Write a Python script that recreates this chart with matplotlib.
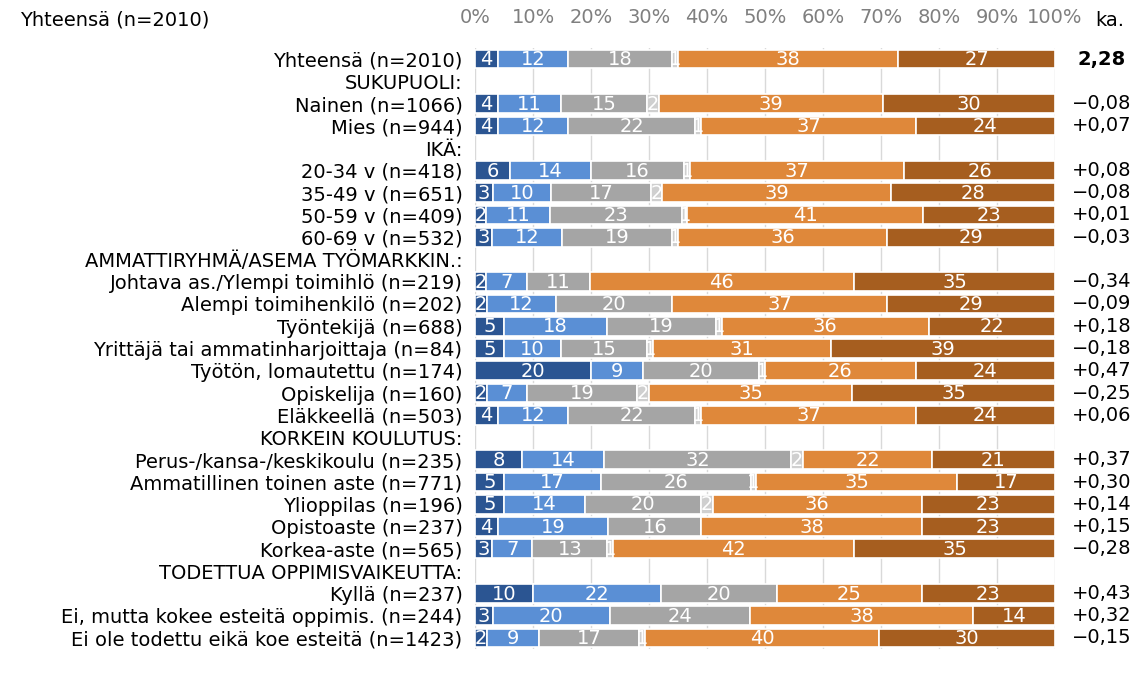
import matplotlib
matplotlib.use('Agg')
import matplotlib.pyplot as plt
import numpy as np

# rows top to bottom, header rows have no bars
rows = ['Yhteensä (n=2010)', 'SUKUPUOLI:', 'Nainen (n=1066)', 'Mies (n=944)', 'IKÄ:',
        '20-34 v (n=418)', '35-49 v (n=651)', '50-59 v (n=409)', '60-69 v (n=532)',
        'AMMATTIRYHMÄ/ASEMA TYÖMARKKIN.:',
        'Johtava as./Ylempi toimihlö (n=219)', 'Alempi toimihenkilö (n=202)',
        'Työntekijä (n=688)', 'Yrittäjä tai ammatinharjoittaja (n=84)',
        'Työtön, lomautettu (n=174)', 'Opiskelija (n=160)', 'Eläkkeellä (n=503)',
        'KORKEIN KOULUTUS:',
        'Perus-/kansa-/keskikoulu (n=235)', 'Ammatillinen toinen aste (n=771)',
        'Ylioppilas (n=196)', 'Opistoaste (n=237)', 'Korkea-aste (n=565)',
        'TODETTUA OPPIMISVAIKEUTTA:',
        'Kyllä (n=237)', 'Ei, mutta kokee esteitä oppimis. (n=244)',
        'Ei ole todettu eikä koe esteitä (n=1423)']
is_header = [r.endswith(':') for r in rows]

# percentages for the data rows (headers skipped), six answer categories
s1 = [4, 4, 4, 6, 3, 2, 3, 2, 2, 5, 5, 20, 2, 4, 8, 5, 5, 4, 3, 10, 3, 2]
s2 = [12, 11, 12, 14, 10, 11, 12, 7, 12, 18, 10, 9, 7, 12, 14, 17, 14, 19, 7, 22, 20, 9]
s3 = [18, 15, 22, 16, 17, 23, 19, 11, 20, 19, 15, 20, 19, 22, 32, 26, 20, 16, 13, 20, 24, 17]
s4 = [1, 2, 1, 1, 2, 1, 1, 0, 0, 1, 1, 1, 2, 1, 2, 1, 2, 0, 1, 0, 0, 1]
s5 = [38, 39, 37, 37, 39, 41, 36, 46, 37, 36, 31, 26, 35, 37, 22, 35, 36, 38, 42, 25, 38, 40]
s6 = [27, 30, 24, 26, 28, 23, 29, 35, 29, 22, 39, 24, 35, 24, 21, 17, 23, 23, 35, 23, 14, 30]
ka = [2.28, -0.08, 0.07, 0.08, -0.08, 0.01, -0.03, -0.34, -0.09, 0.18, -0.18, 0.47,
      -0.25, 0.06, 0.37, 0.30, 0.14, 0.15, -0.28, 0.43, 0.32, -0.15]

colors = ['#2B5592', '#5A8FD5', '#A5A5A5', '#CFCFCF', '#DF883A', '#A65E1F']
plt.rcParams['font.family'] = ['DejaVu Sans']
fs = 14

W, H = 1148, 677
fig = plt.figure(figsize=(W / 100, H / 100), dpi=100)
ax = fig.add_axes([475 / W, (H - 649) / H, 580 / W, 601 / H])

series = np.array([s1, s2, s3, s4, s5, s6], dtype=float)
series = series / series.sum(axis=0) * 100

ypos = np.arange(len(rows))
data_y = [y for y, h in zip(ypos, is_header) if not h]
left = np.zeros(len(data_y))
for k in range(6):
    vals = series[k]
    ax.barh(data_y, vals, left=left, height=0.84, color=colors[k],
            edgecolor='white', linewidth=1.2, zorder=2)
    raw = [s1, s2, s3, s4, s5, s6][k]
    for y, l, v, r in zip(data_y, left, vals, raw):
        if r >= 1:
            ax.text(l + v / 2, y + 0.03, str(r), ha='center', va='center',
                    color='white', fontsize=fs, zorder=3)
    left = left + vals

ax.set_ylim(len(rows) - 0.5, -0.5)
ax.set_xlim(0, 100)
ax.set_yticks(ypos)
ax.set_yticklabels(rows, fontsize=fs)
ax.tick_params(axis='y', length=0, pad=9)
ax.xaxis.tick_top()
ax.set_xticks(np.arange(0, 101, 10))
ax.set_xticklabels([f'{t}%' for t in range(0, 101, 10)], fontsize=fs, color='#7F7F7F')
ax.tick_params(axis='x', length=0, pad=15)
ax.grid(axis='x', color='#D9D9D9', linewidth=1, zorder=0)
ax.set_axisbelow(True)
for sp in ax.spines.values():
    sp.set_visible(False)

for i, (y, v) in enumerate(zip(data_y, ka)):
    if i == 0:
        txt = f'{v:.2f}'.replace('.', ',')
        weight = 'bold'
    else:
        txt = ('+' if v >= 0 else '\u2212') + f'{abs(v):.2f}'.replace('.', ',')
        weight = 'normal'
    ax.text(108, y, txt, ha='center', va='center', fontsize=fs,
            fontweight=weight, clip_on=False)

fig.text(1110 / W, 1 - 20 / H, 'ka.', ha='center', va='center', fontsize=fs)
fig.text(20 / W, 1 - 20 / H, 'Yhteensä (n=2010)', ha='left', va='center', fontsize=fs)

fig.savefig('out.png', dpi=100)
